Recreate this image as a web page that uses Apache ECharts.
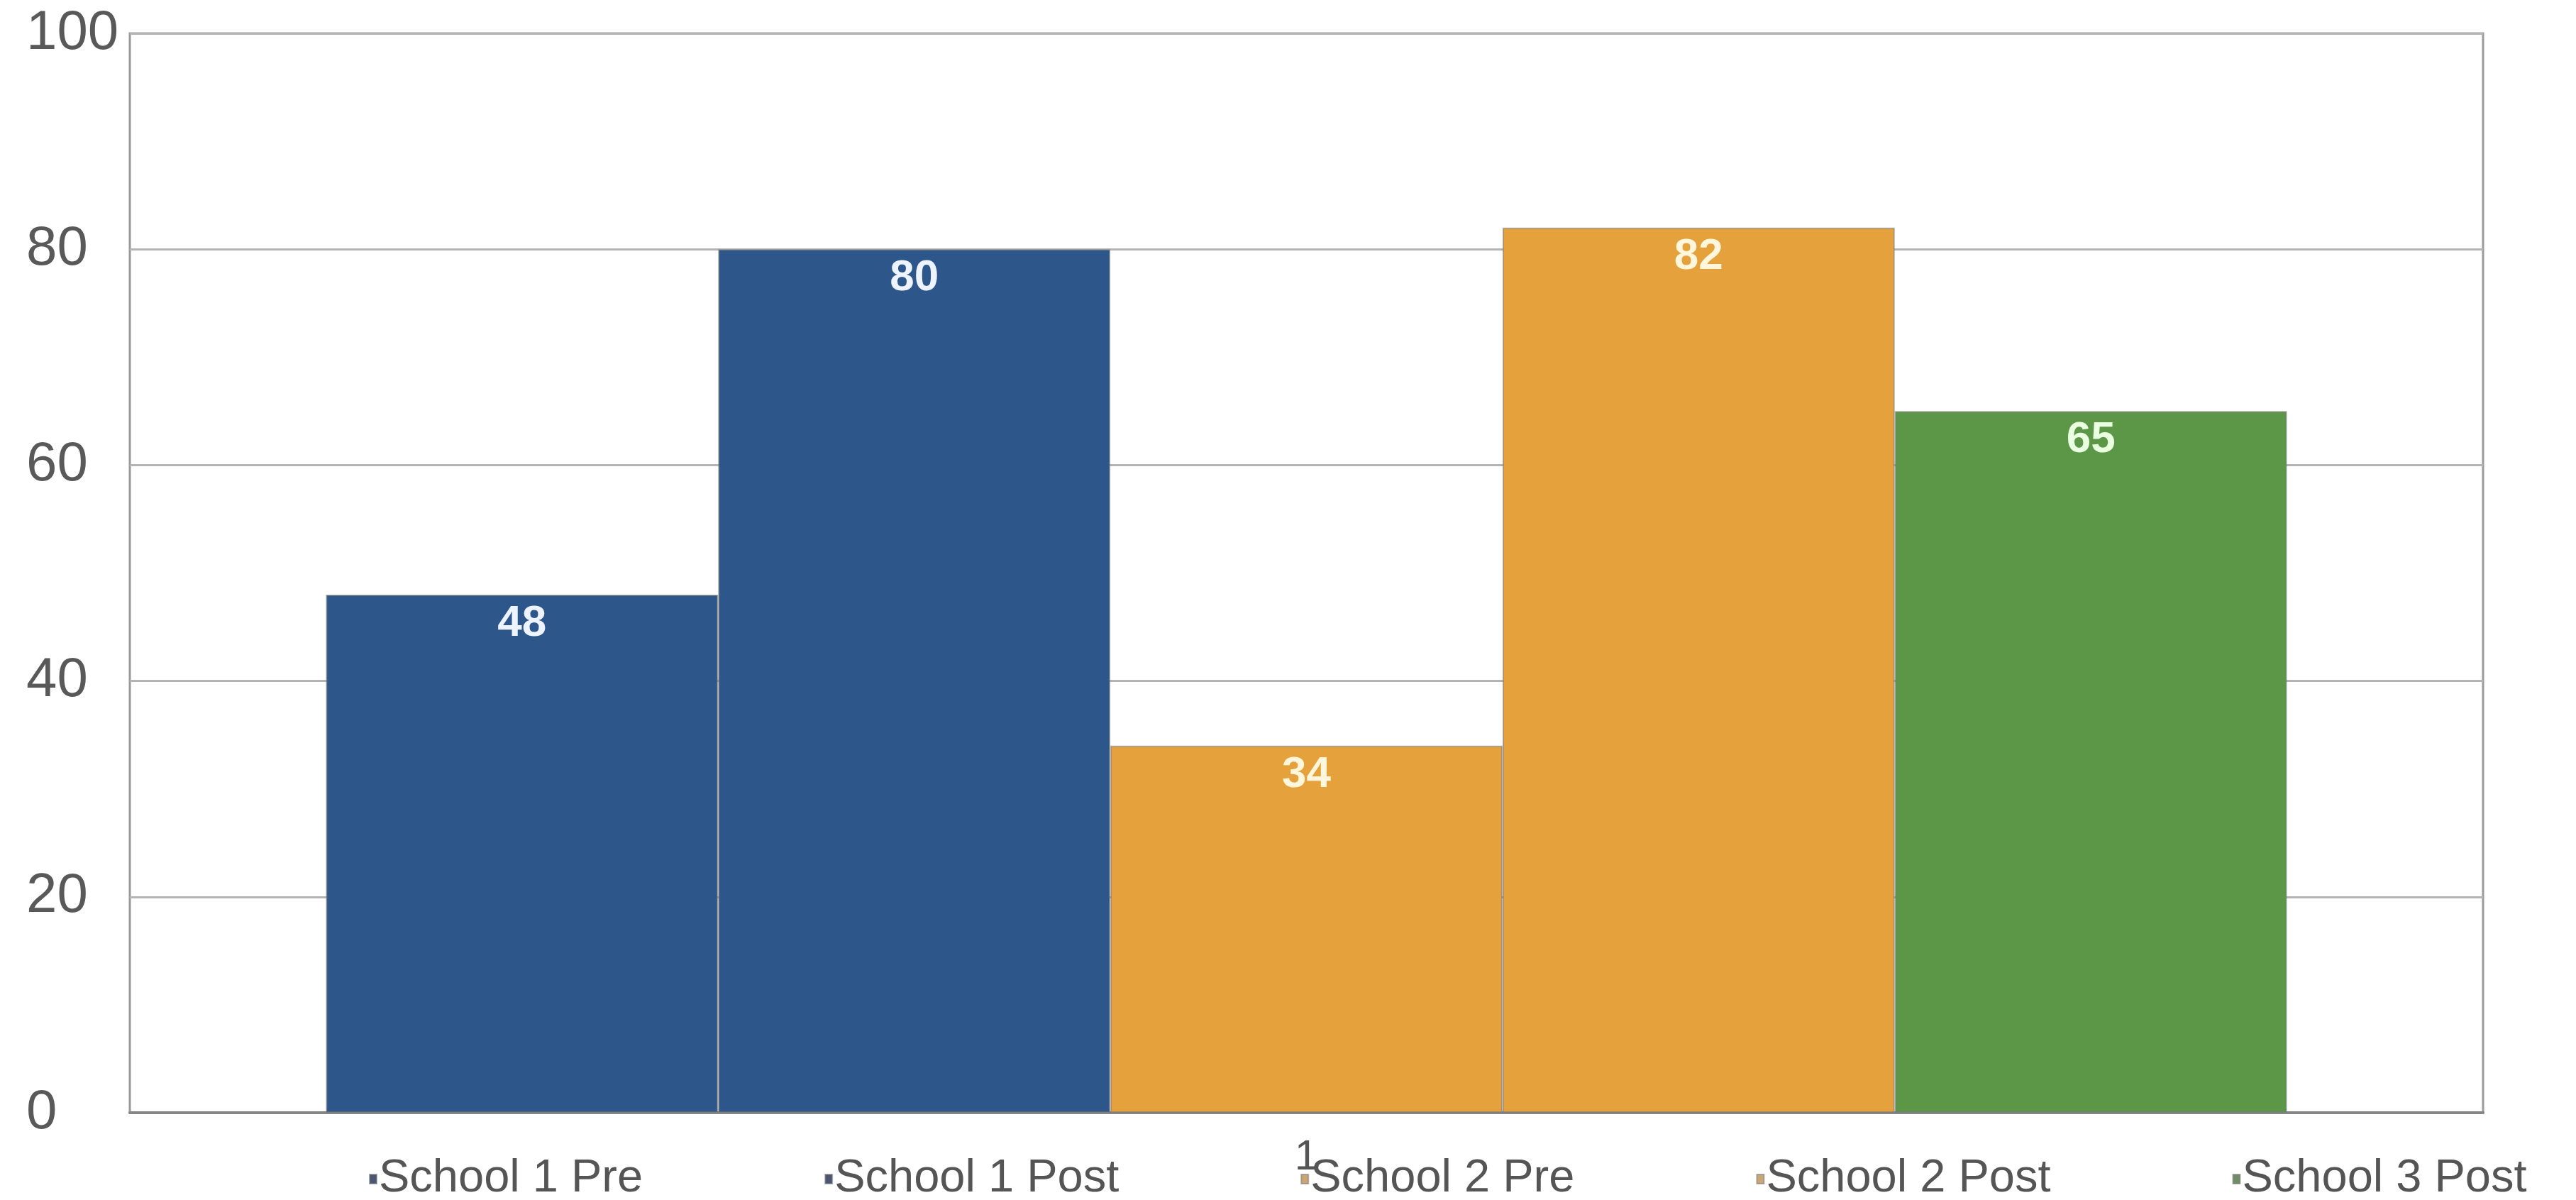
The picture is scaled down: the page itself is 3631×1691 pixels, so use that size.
<!DOCTYPE html>
<html>
<head>
<meta charset="utf-8">
<script src="https://cdn.jsdelivr.net/npm/echarts@6/dist/echarts.min.js"></script>
<style>
  html, body { margin: 0; padding: 0; background: #ffffff; }
  #chart { width: 3631px; height: 1691px; }
</style>
</head>
<body>
<div id="chart"></div>
<script>
// Single category, one bar per school/test phase
const categories = ['1'];
const seriesNames = ['School 1 Pre', 'School 1 Post', 'School 2 Pre', 'School 2 Post', 'School 3 Post'];
const seriesValues = [48, 80, 34, 82, 65];
const yMin = 0;
const yMax = 100;
const yStep = 20;

// Palette: bar fills, label tints and legend swatches
const barColors = ['#2D568A', '#2D568A', '#E5A23C', '#E5A23C', '#5B9747'];
const labelColors = ['#eef4ff', '#eef4ff', '#fff6dc', '#fff6dc', '#eaffe0'];
const swatchColors = ['#4a5672', '#4a5672', '#c9a674', '#c9a674', '#6e8d66'];

const FONT = 'Liberation Sans, Arial, sans-serif';

const chart = echarts.init(document.getElementById('chart'), null, { renderer: 'canvas' });

const series = seriesNames.map((name, i) => ({
  name: name,
  type: 'bar',
  data: [seriesValues[i]],
  barGap: '0%',
  barCategoryGap: '16.6667%',
  itemStyle: {
    color: barColors[i],
    borderColor: 'rgba(120,120,120,0.55)',
    borderWidth: 2
  },
  label: {
    show: true,
    position: 'insideTop',
    distance: 10,
    color: labelColors[i],
    fontFamily: FONT,
    fontWeight: 'bold',
    fontSize: 62
  }
}));

chart.setOption({
  backgroundColor: '#ffffff',
  animation: false,
  grid: {
    left: 183,
    right: 131,
    top: 47,
    bottom: 123,
    show: true,
    borderColor: '#9a9a9a',
    borderWidth: 3,
    backgroundColor: 'transparent'
  },
  legend: {
    data: seriesNames.map((name, i) => ({
      name: name,
      icon: 'rect',
      itemStyle: { color: swatchColors[i] }
    })),
    left: 515,
    top: 1624,
    itemGap: 256,
    itemWidth: 10,
    itemHeight: 13,
    textStyle: {
      color: '#555555',
      fontFamily: FONT,
      fontSize: 65,
      padding: [0, 0, 0, -2]
    }
  },
  xAxis: {
    type: 'category',
    data: categories,
    axisLine: { show: true, lineStyle: { color: '#858585', width: 4 } },
    axisTick: { show: false },
    axisLabel: {
      show: true,
      interval: 0,
      color: '#555555',
      fontFamily: FONT,
      fontSize: 60,
      margin: 33
    }
  },
  yAxis: {
    type: 'value',
    min: yMin,
    max: yMax,
    interval: yStep,
    axisLine: { show: false },
    axisTick: { show: false },
    splitLine: { show: true, lineStyle: { color: '#b4b4b4', width: 3 } },
    axisLabel: {
      color: '#595959',
      fontFamily: FONT,
      fontSize: 78,
      align: 'left',
      margin: 146,
      padding: [14, 0, 0, 0]
    }
  },
  series: series
});
</script>
</body>
</html>
